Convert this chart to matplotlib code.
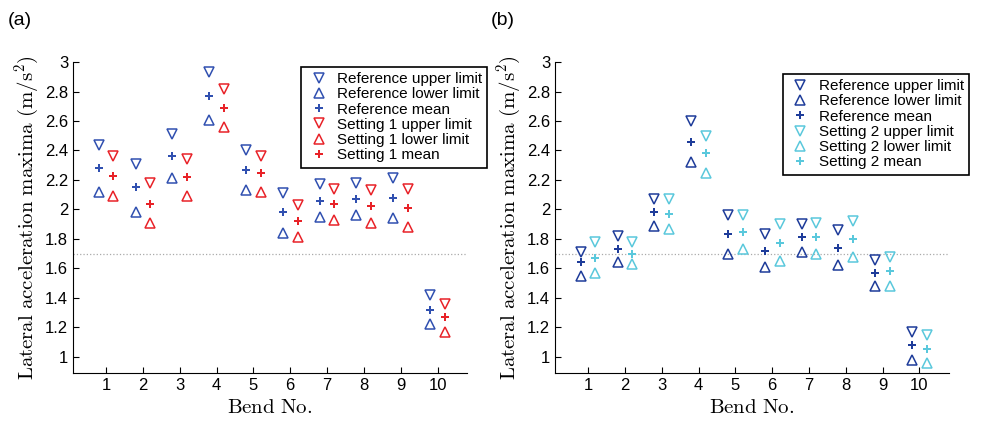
import numpy as np
import matplotlib.pyplot as plt

plt.rcParams['mathtext.fontset'] = 'cm'
plt.rcParams['font.family'] = ['Liberation Sans', 'DejaVu Sans']

bends = np.arange(1, 11)
xtick_labels = [str(b) for b in bends]

# panel (a)
ref_a_upper = [2.44, 2.31, 2.51, 2.93, 2.40, 2.11, 2.17, 2.18, 2.21, 1.42]
ref_a_mean = [2.28, 2.15, 2.36, 2.77, 2.27, 1.98, 2.06, 2.07, 2.08, 1.32]
ref_a_lower = [2.12, 1.98, 2.21, 2.61, 2.13, 1.84, 1.95, 1.96, 1.94, 1.22]
set1_upper = [2.36, 2.18, 2.34, 2.82, 2.36, 2.03, 2.14, 2.13, 2.14, 1.36]
set1_mean = [2.23, 2.04, 2.22, 2.69, 2.25, 1.92, 2.04, 2.02, 2.01, 1.27]
set1_lower = [2.09, 1.91, 2.09, 2.56, 2.12, 1.81, 1.93, 1.91, 1.88, 1.17]

# panel (b)
ref_b_upper = [1.71, 1.82, 2.07, 2.60, 1.96, 1.83, 1.90, 1.86, 1.66, 1.17]
ref_b_mean = [1.64, 1.73, 1.98, 2.46, 1.83, 1.72, 1.81, 1.74, 1.57, 1.08]
ref_b_lower = [1.55, 1.64, 1.89, 2.32, 1.70, 1.61, 1.71, 1.62, 1.48, 0.98]
set2_upper = [1.78, 1.78, 2.07, 2.50, 1.96, 1.90, 1.91, 1.92, 1.68, 1.15]
set2_mean = [1.67, 1.70, 1.97, 2.38, 1.85, 1.77, 1.81, 1.80, 1.58, 1.05]
set2_lower = [1.57, 1.63, 1.87, 2.25, 1.73, 1.65, 1.70, 1.68, 1.48, 0.96]

threshold = 1.7

fig = plt.figure(figsize=(9.81, 4.22), dpi=100)
ax_a = fig.add_axes([0.0744, 0.116, 0.4016, 0.737])
ax_b = fig.add_axes([0.5657, 0.116, 0.4016, 0.737])


def draw_panel(ax, ref, other, ref_color, other_color, name, legend_anchor, tag):
    off = 0.2
    for (vals, label), col, x in [((ref, 'Reference'), ref_color, bends - off),
                                  ((other, name), other_color, bends + off)]:
        upper, lower, mean = vals
        ax.plot(x, upper, linestyle='none', marker='v', ms=7, mfc='none',
                mec=col, mew=1.1, label=label + ' upper limit')
        ax.plot(x, lower, linestyle='none', marker='^', ms=7, mfc='none',
                mec=col, mew=1.1, label=label + ' lower limit')
        ax.plot(x, mean, linestyle='none', marker='P', ms=6, color=col,
                mew=0, label=label + ' mean')
    ax.axhline(threshold, color='#aaaaaa', linestyle=':', lw=0.9, zorder=0)
    ax.set_xlim(0.1, 10.8)
    ax.set_ylim(0.89, 3.0)
    ax.set_xticks(bends)
    ax.set_xticklabels(xtick_labels)
    ax.set_yticks(np.arange(1, 3.01, 0.2))
    ax.set_yticklabels(['1', '1.2', '1.4', '1.6', '1.8', '2', '2.2', '2.4',
                        '2.6', '2.8', '3'])
    ax.tick_params(direction='in', labelsize=12, length=4)
    for s in ['top', 'right']:
        ax.spines[s].set_visible(False)
    ax.set_xlabel(r'$\mathrm{Bend\ No.}$', fontsize=15)
    ax.set_ylabel(r'$\mathrm{Lateral\ acceleration\ maxima\ (m/s^2)}$',
                  fontsize=15, labelpad=3)
    leg = ax.legend(loc='upper left', bbox_to_anchor=legend_anchor,
                    bbox_transform=fig.transFigure, fontsize=11,
                    handletextpad=0.4, labelspacing=0.08, borderpad=0.35,
                    fancybox=False, framealpha=1, handlelength=1.6)
    leg.get_frame().set_edgecolor('black')
    leg.get_frame().set_linewidth(1.2)
    fig.text(tag[0], tag[1], tag[2], fontsize=14)


draw_panel(ax_a, (ref_a_upper, ref_a_lower, ref_a_mean),
           (set1_upper, set1_lower, set1_mean), '#3050b0',
           '#e82228', 'Setting 1', (0.299, 0.86), (0.008, 0.94, '(a)'))
draw_panel(ax_b, (ref_b_upper, ref_b_lower, ref_b_mean),
           (set2_upper, set2_lower, set2_mean), '#1e3c9a', '#5ac8dc',
           'Setting 2', (0.79, 0.843), (0.5, 0.94, '(b)'))

fig.savefig('out.png', dpi=100)
